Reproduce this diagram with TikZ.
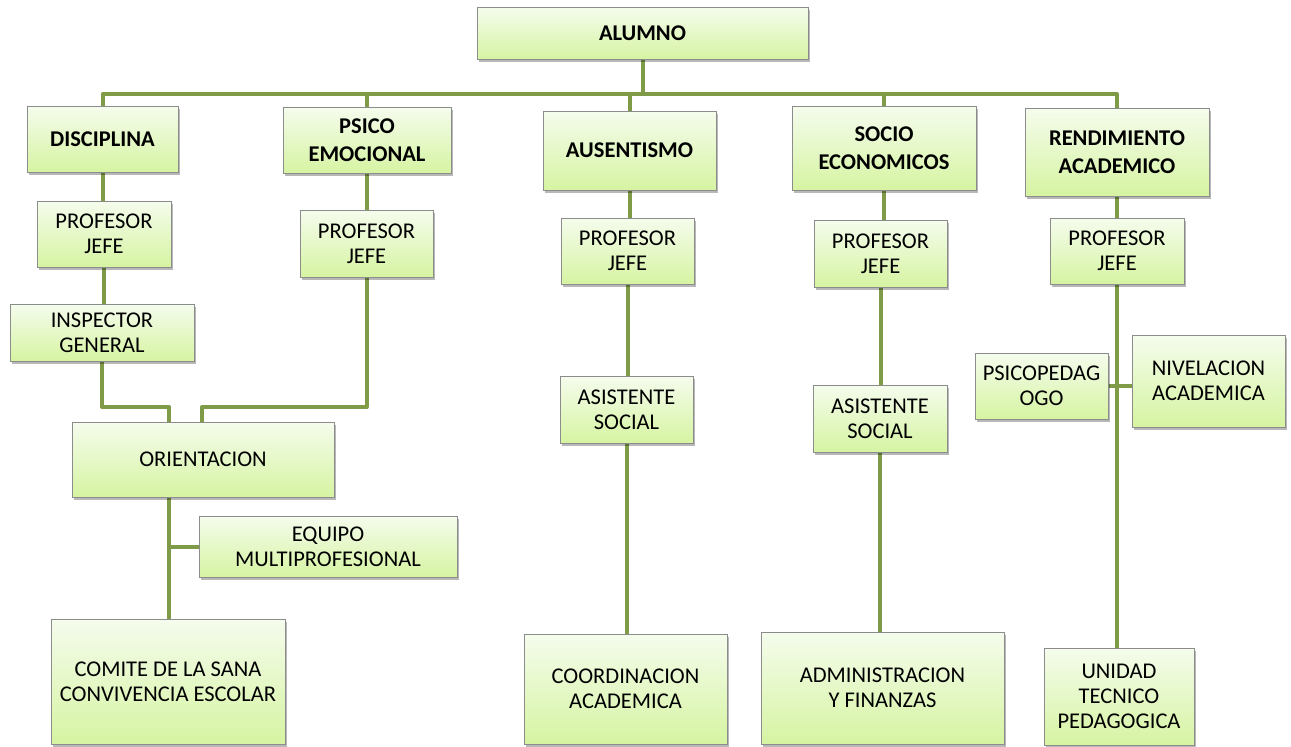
\documentclass[tikz,border=0pt]{standalone}
\usepackage{fontspec}
\setmainfont{Carlito}
\usetikzlibrary{shadows,backgrounds}
\definecolor{linegreen}{RGB}{128,155,72}
\definecolor{boxtop}{RGB}{245,252,237}
\definecolor{boxbot}{RGB}{214,244,162}
\definecolor{boxborder}{RGB}{140,140,140}
\tikzset{
  box/.style={draw=boxborder, line width=1pt, top color=boxtop, bottom color=boxbot,
    inner sep=0pt, align=center, text=black,
    font=\fontsize{22.5}{25}\selectfont,
    drop shadow={shadow xshift=1.5pt, shadow yshift=-2.5pt, fill=black, opacity=0.28}},
  headbox/.style={box, font=\fontsize{22.5}{27.5}\selectfont\bfseries},
  conn/.style={draw=linegreen, line width=4pt, line join=round}
}
\begin{document}
\begin{tikzpicture}[x=1pt,y=1pt]
\useasboundingbox (0,0) rectangle (1291,-747);
\coordinate (bus) at (642.5,-94);
% top node
\node[headbox, minimum width=331pt, minimum height=52pt] (alumno) at (642.5,-33.5) {ALUMNO};
% level 1
\node[headbox, minimum width=151pt, minimum height=66pt] (disc) at (102.5,-139) {DISCIPLINA};
\node[headbox, minimum width=168pt, minimum height=66pt] (psico) at (367,-140) {PSICO\\EMOCIONAL};
\node[headbox, minimum width=173pt, minimum height=79pt] (aus) at (629.5,-150.5) {AUSENTISMO};
\node[headbox, minimum width=184pt, minimum height=84pt] (socio) at (884,-148) {SOCIO\\ECONOMICOS};
\node[headbox, minimum width=184pt, minimum height=88pt] (rend) at (1117,-152) {RENDIMIENTO\\ACADEMICO};
% level 2
\node[box, minimum width=134pt, minimum height=66pt] (pj1) at (104,-234) {PROFESOR\\JEFE};
\node[box, minimum width=133pt, minimum height=67pt] (pj2) at (366.5,-243.5) {PROFESOR\\JEFE};
\node[box, minimum width=133pt, minimum height=66pt] (pj3) at (627.5,-251) {PROFESOR\\JEFE};
\node[box, minimum width=133pt, minimum height=67pt] (pj4) at (880.5,-253.5) {PROFESOR\\JEFE};
\node[box, minimum width=134pt, minimum height=66pt] (pj5) at (1117,-251) {PROFESOR\\JEFE};
% column 1/2
\node[box, minimum width=184pt, minimum height=57pt] (insp) at (102,-332.5) {INSPECTOR\\GENERAL};
\node[box, minimum width=262pt, minimum height=75pt] (orient) at (203,-459.5) {ORIENTACION};
\node[box, minimum width=258pt, minimum height=61pt] (equipo) at (328,-546.5) {EQUIPO\\MULTIPROFESIONAL};
\node[box, minimum width=234pt, minimum height=125pt] (comite) at (168,-681.5) {COMITE DE LA SANA\\CONVIVENCIA ESCOLAR};
% column 3
\node[box, minimum width=133pt, minimum height=67pt] (as1) at (626.5,-409.5) {ASISTENTE\\SOCIAL};
\node[box, minimum width=203pt, minimum height=110pt] (coord) at (625.5,-689) {COORDINACION\\ACADEMICA};
% column 4
\node[box, minimum width=134pt, minimum height=67pt] (as2) at (880,-418.5) {ASISTENTE\\SOCIAL};
\node[box, minimum width=243pt, minimum height=112pt] (admin) at (882.5,-688) {ADMINISTRACION\\Y FINANZAS};
% column 5
\node[box, minimum width=133pt, minimum height=66pt] (psped) at (1041.5,-386) {PSICOPEDAG\\OGO};
\node[box, minimum width=153pt, minimum height=92pt] (nivel) at (1208.5,-381) {NIVELACION\\ACADEMICA};
\node[box, minimum width=150pt, minimum height=97pt] (unidad) at (1119,-696.5) {UNIDAD\\TECNICO\\PEDAGOGICA};
% connectors drawn behind the boxes
\begin{scope}[on background layer]
  \draw[conn] (alumno.south) -- (bus);
  \draw[conn] (disc.north) |- (bus);
  \draw[conn] (psico.north) |- (bus);
  \draw[conn] (aus.north) |- (bus);
  \draw[conn] (socio.north) |- (bus);
  \draw[conn] (rend.north) |- (bus);
  % column 1
  \draw[conn] (disc.south) -- (disc.south |- pj1.north);
  \draw[conn] (pj1.south) -- (pj1.south |- insp.north);
  \coordinate (o1) at (169,-407);
  \coordinate (o2) at (202,-407);
  \draw[conn] (insp.south) |- (o1) -- (o1 |- orient.north);
  % column 2
  \draw[conn] (psico.south) -- (psico.south |- pj2.north);
  \draw[conn] (pj2.south) |- (o2) -- (o2 |- orient.north);
  \coordinate (o3) at (169,-497);
  \draw[conn] (o3) -- (o3 |- comite.north);
  \draw[conn] (o3 |- equipo.west) -- (equipo.west);
  % column 3
  \draw[conn] (aus.south) -- (aus.south |- pj3.north);
  \draw[conn] (pj3.south) -- (pj3.south |- as1.north);
  \draw[conn] (as1.south) -- (as1.south |- coord.north);
  % column 4
  \draw[conn] (socio.south) -- (socio.south |- pj4.north);
  \draw[conn] (pj4.south) -- (pj4.south |- as2.north);
  \draw[conn] (as2.south) -- (as2.south |- admin.north);
  % column 5
  \draw[conn] (rend.south) -- (rend.south |- pj5.north);
  \draw[conn] (pj5.south) -- (pj5.south |- unidad.north);
  \draw[conn] (psped.east) -- (nivel.west |- psped.east);
\end{scope}
\end{tikzpicture}
\end{document}
